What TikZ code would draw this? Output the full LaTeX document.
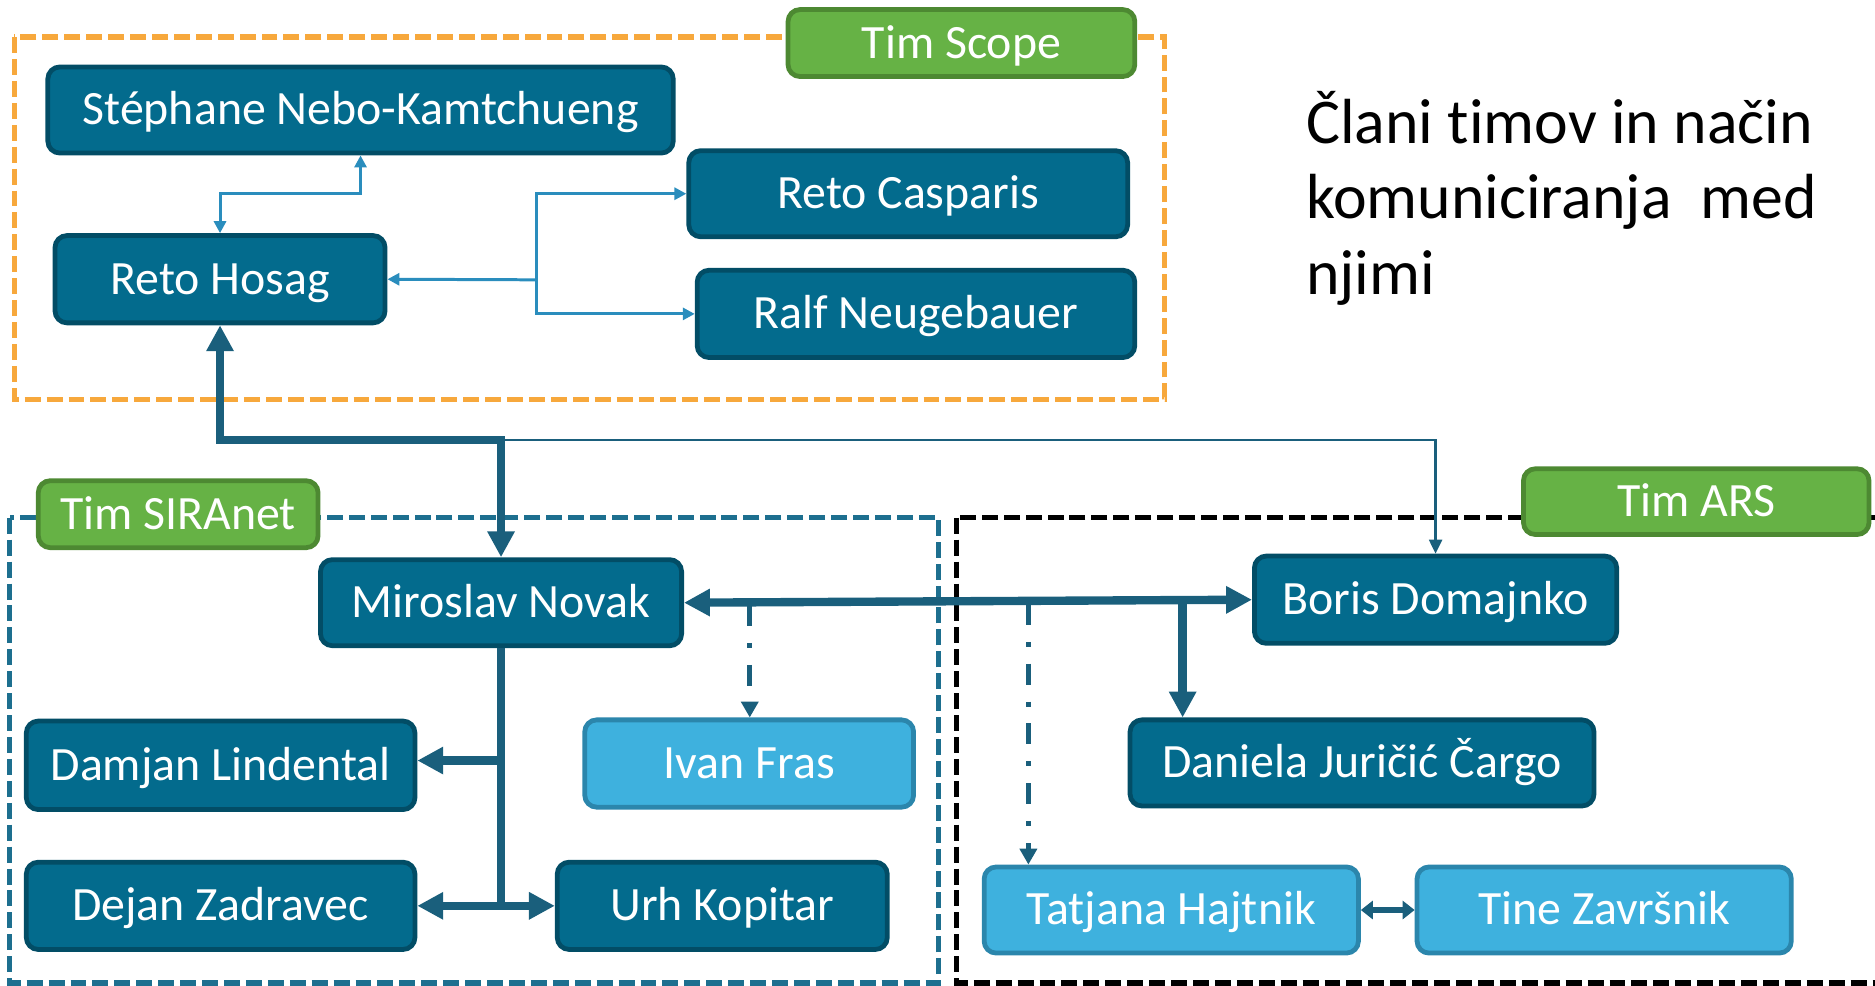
\documentclass[tikz,border=0pt]{standalone}
\usepackage{fontspec}
\setmainfont{Carlito}[RawFeature={-liga;-calt;-clig}]
\usetikzlibrary{arrows.meta}
\definecolor{boxfill}{HTML}{036B8D}
\definecolor{boxline}{HTML}{024D66}
\definecolor{lboxfill}{HTML}{3EB1DE}
\definecolor{lboxline}{HTML}{2B86AC}
\definecolor{gfill}{HTML}{66B245}
\definecolor{gline}{HTML}{4D8932}
\definecolor{adark}{HTML}{1A5F7C}
\definecolor{alight}{HTML}{2A8DBD}
\definecolor{orangeg}{HTML}{F7A83C}
\definecolor{tealg}{HTML}{1D6F8F}
\tikzset{
  pbox/.style={draw=boxline, fill=boxfill, line width=2.4pt, rounded corners=6pt, text=white, inner sep=0pt, text height=20pt, text depth=5pt, font=\fontsize{24}{28}\selectfont},
  lbox/.style={pbox, draw=lboxline, fill=lboxfill},
  gbox/.style={pbox, draw=gline, fill=gfill},
  grp/.style={line width=2.6pt, dash pattern=on 8pt off 3pt},
  thk/.style={draw=adark, line width=4.2pt},
  bigtip/.tip={Triangle[length=13pt,width=13pt]},
  lt/.style={draw=alight, line width=1.5pt},
  smalltip/.tip={Triangle[length=6pt,width=6pt]},
  thn/.style={draw=adark, line width=1.2pt},
  ddash/.style={draw=adark, line width=2.4pt, dash pattern=on 10.5pt off 8.5pt on 2.5pt off 8.5pt},
  midtip/.tip={Triangle[length=8pt,width=8.5pt]},
  thntip/.tip={Triangle[length=7pt,width=6.5pt]},
  ttl/.style={anchor=base west, inner sep=0pt, font=\fontsize{32}{38}\selectfont}
}
\newcommand\pbx[7]{\node[#7, minimum width={(#4-#2-4)*0.6pt}, minimum height={(#5-#3-4)*0.6pt}] (#1) at ({(#2+#4)/2},{(#3+#5)/2}) {#6};}
\begin{document}
\begin{tikzpicture}[x=0.6pt,y=-0.6pt]
\useasboundingbox (0,0) rectangle (1568,824);
% groups
\draw[grp, draw=orangeg] (12,31) rectangle (974,334);
\draw[grp, draw=tealg] (8,433) rectangle (785,822);
\draw[grp, draw=black] (800,433) rectangle (1574,822);
% group labels
\pbx{gscope}{657}{6}{951}{66}{Tim Scope}{gbox}
\pbx{gsira}{30}{400}{268}{460}{Tim SIRAnet}{gbox}
\pbx{gars}{1272}{390}{1565}{449}{Tim ARS}{gbox}
% title
\node[ttl] (t1) at (1092,120) {Člani timov in način};
\node[ttl] (t2) at (1092,183) {komuniciranja\ \ med};
\node[ttl] (t3) at (1092,246) {njimi};
% people
\pbx{steph}{38}{54}{565}{130}{Stéphane Nebo-Kamtchueng}{pbox}
\pbx{hosag}{44}{195}{324}{272}{Reto Hosag}{pbox}
\pbx{casp}{574}{124}{945}{200}{Reto Casparis}{pbox}
\pbx{ralf}{581}{224}{951}{301}{Ralf Neugebauer}{pbox}
\pbx{novak}{266}{466}{572}{542}{Miroslav Novak}{pbox}
\pbx{damjan}{20}{601}{349}{679}{Damjan Lindental}{pbox}
\pbx{dejan}{20}{719}{349}{796}{Dejan Zadravec}{pbox}
\pbx{urh}{464}{719}{744}{796}{Urh Kopitar}{pbox}
\pbx{ivan}{487}{600}{766}{677}{Ivan Fras}{lbox}
\pbx{boris}{1047}{463}{1354}{540}{Boris Domajnko}{pbox}
\pbx{daniela}{943}{600}{1335}{676}{Daniela Juričić Čargo}{pbox}
\pbx{tatjana}{821}{723}{1138}{799}{Tatjana Hajtnik}{lbox}
\pbx{tine}{1183}{723}{1500}{799}{Tine Završnik}{lbox}
% top group connectors
\draw[lt, {smalltip}-{smalltip}] (hosag.north) -- ++(0,-33) -| (steph.south);
\coordinate (fork) at (449,234);
\draw[lt, -{smalltip}] (fork) -- (hosag.east);
\draw[lt, -{smalltip}] (fork) |- (casp.west);
\draw[lt, -{smalltip}] (fork) |- (ralf.west);
% cross-group
\coordinate (j1) at (419,368);
\draw[thn, -{thntip}] (j1) -| (boris.north);
\draw[thk, {bigtip}-{bigtip}] (hosag.south) |- (j1) -- (novak.north);
\draw[thk, {bigtip}-{bigtip}] (novak.east) -- (boris.west);
\coordinate (d1) at (989,503);
\draw[thk, -{bigtip}] (d1) -- (d1 |- daniela.north);
\coordinate (i1) at (627,506);
\draw[ddash, -{midtip}] (i1) -- (i1 |- ivan.north);
\coordinate (t0) at (860,505);
\draw[ddash, -{midtip}] (t0) -- (t0 |- tatjana.north);
% SIRAnet internal
\draw[thk, line width=3.8pt] (novak.south) -- (419,760);
\draw[thk, -{bigtip}] (417,636) -- (damjan.east |- 0,636);
\draw[thk, {bigtip}-{bigtip}] (dejan.east) -- (urh.west);
% ARS internal
\draw[thk, line width=3pt, {Triangle[length=6pt,width=9pt]}-{Triangle[length=6pt,width=9pt]}] (tatjana.east) -- (tine.west);
\end{tikzpicture}
\end{document}
